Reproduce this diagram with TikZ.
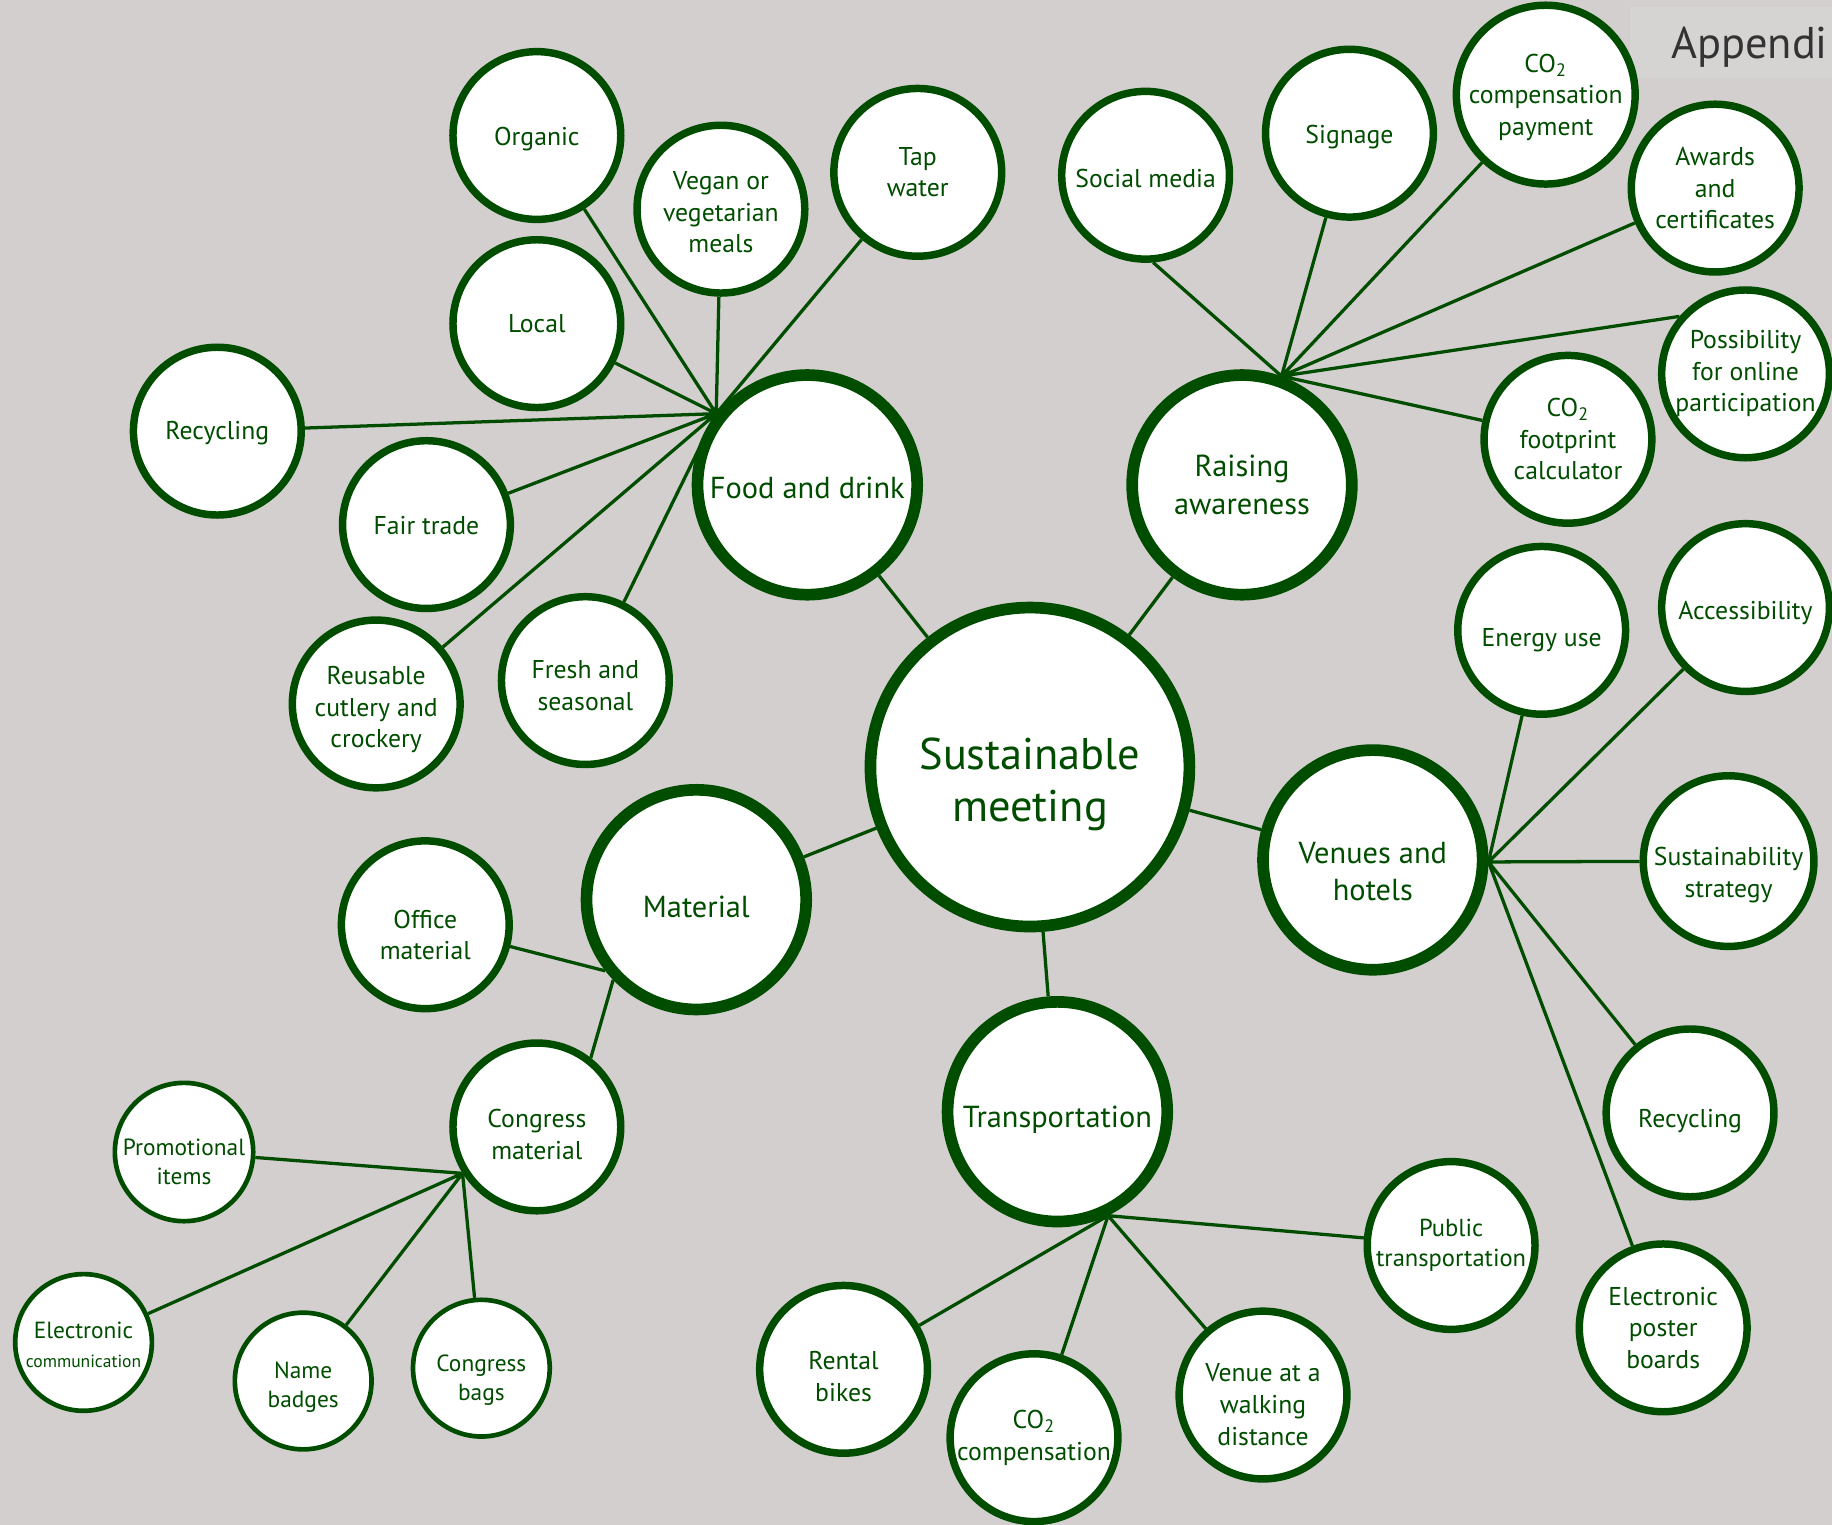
\documentclass[tikz,border=0pt]{standalone}
\usepackage{fontspec}
\setmainfont{PT Sans}
\definecolor{leafgreen}{HTML}{004D00}
\definecolor{paper}{HTML}{D3CFCF}
\definecolor{paperlight}{HTML}{D6D3D3}
\definecolor{inkgrey}{HTML}{333333}
\pgfdeclarelayer{back}
\pgfsetlayers{back,main}
\begin{document}
\begin{tikzpicture}[x=0.5pt,y=-0.5pt]
	\tikzstyle{bubble}=[circle,draw=leafgreen,fill=white,inner sep=0,align=center,text=leafgreen]
	\tikzstyle{hub node}=[bubble,line width=5pt,minimum size=136.5pt,font=\fontsize{19}{22.5}\selectfont]
	\tikzstyle{topic node}=[bubble,line width=5pt,minimum size=94pt,font=\fontsize{13}{16}\selectfont]
	\tikzstyle{leaf node}=[bubble,line width=3.2pt,minimum size=71.8pt,font=\fontsize{11}{13.5}\selectfont]
	\tikzstyle{small node}=[bubble,line width=2pt,minimum size=58.5pt,font=\fontsize{10}{12.5}\selectfont]
	\tikzstyle{link}=[leafgreen,line width=1.4pt]
	\useasboundingbox(0,0)rectangle(1568,1305);
	\node(0)[hub node,text height=51pt] at (881.5,656.5){Sustainable\\meeting};
	\node(0-1)[topic node,text height=11.4pt] at (691,415){Food and drink};
	\node(0-2)[topic node] at (1063,415){Raising\\awareness};
	\node(0-3)[topic node,text height=35pt] at (1175,736){Venues and\\hotels};
	\node(0-4)[topic node,text height=16.4pt] at (905,951.5){Transportation};
	\node(0-5)[topic node,text height=15.4pt] at (596,770){Material};
	% food and drink
	\node(0-1-1)[leaf node,text height=10.9pt] at (459.5,116){Organic};
	\node(0-1-2)[leaf node,text height=37.4pt] at (617,179){Vegan or\\vegetarian\\meals};
	\node(0-1-3)[leaf node] at (785.5,147.5){Tap\\water};
	\node(0-1-4)[leaf node] at (459.5,277){Local};
	\node(0-1-5)[leaf node,text height=9.9pt] at (186,369){Recycling};
	\node(0-1-6)[leaf node,text height=8.9pt] at (365,449){Fair trade};
	\node(0-1-7)[leaf node,text height=39.9pt] at (322,602.5){Reusable\\cutlery and\\crockery};
	\node(0-1-8)[leaf node,text height=25.4pt] at (501,582.5){Fresh and\\seasonal};
	% raising awareness
	\node(0-2-1)[leaf node,text height=10.9pt] at (980.5,150){Social media};
	\node(0-2-2)[leaf node,text height=10.9pt] at (1155,114){Signage};
	\node(0-2-3)[leaf node,text height=36.9pt] at (1323,81){CO\textsubscript{2}\\compensation\\payment};
	\node(0-2-4)[leaf node] at (1468,161){Awards\\and\\certificates};
	\node(0-2-5)[leaf node] at (1494,320){Possibility\\for online\\participation};
	\node(0-2-6)[leaf node] at (1342,376){CO\textsubscript{2}\\footprint\\calculator};
	% venues and hotels
	\node(0-3-1)[leaf node,text height=15.9pt] at (1319.5,539.5){Energy use};
	\node(0-3-2)[leaf node,text height=12.9pt] at (1494,520){Accessibility};
	\node(0-3-3)[leaf node,text height=33.4pt] at (1479.5,737){Sustainability\\strategy};
	\node(0-3-4)[leaf node,text height=14.9pt] at (1446.5,952.5){Recycling};
	\node(0-3-5)[leaf node] at (1423.5,1136.5){Electronic\\poster\\boards};
	% transportation
	\node(0-4-1)[leaf node,text height=27.4pt] at (722,1172){Rental\\bikes};
	\node(0-4-2)[leaf node] at (885,1230.5){CO\textsubscript{2}\\compensation};
	\node(0-4-3)[leaf node,text height=42.9pt] at (1081,1194){Venue at a\\walking\\distance};
	\node(0-4-4)[leaf node,font=\fontsize{10.5}{13}\selectfont] at (1242,1066){Public\\transportation};
	% material
	\node(0-5-1)[leaf node,text height=29.9pt] at (364,791.5){Office\\material};
	\node(0-5-2)[leaf node,text height=27.9pt] at (459.5,964.5){Congress\\material};
	\node(0-5-2-1)[small node,text height=27.7pt] at (157.5,986){Promotional\\items};
	\node(0-5-2-2)[small node,text height=21.7pt] at (71.5,1149){Electronic\\{\fontsize{7.5}{9}\selectfont communication}};
	\node(0-5-2-3)[small node,text height=24.7pt] at (259.5,1182){Name\\badges};
	\node(0-5-2-4)[small node,text height=29.7pt] at (412,1171){Congress\\bags};
	\node(title)[anchor=west,text=inkgrey,font=\fontsize{19}{23}\selectfont,inner sep=0] at (1430,40){Appendi};
	\begin{pgfonlayer}{back}
		\fill[paper](0,0)rectangle(1568,1305);
		\fill[paperlight](1395,6)rectangle(1568,67);
		\draw[link](0)--(0-1)(0)--(0-2)(0)--(0-3)(0)--(0-4)(0)--(0-5);
		\draw[link](0-1-1)--(0-1.142)(0-1-2)--(0-1.142)(0-1-3)--(0-1.142)(0-1-4)--(0-1.142)
			(0-1-5)--(0-1.142)(0-1-6)--(0-1.142)(0-1-7)--(0-1.142)(0-1-8)--(0-1.142);
		\draw[link](0-2-1.-85)--(0-2.70)(0-2-2)--(0-2.70)(0-2-3)--(0-2.70)(0-2-4)--(0-2.70)
			(0-2-5.139)--(0-2.70)(0-2-6)--(0-2.70);
		\draw[link](0-3-1)--(0-3.-1)(0-3-2)--(0-3.-1)(0-3-3)--(0-3.-1)(0-3-4)--(0-3.-1)(0-3-5)--(0-3.-1);
		\draw[link](0-4-1)--(0-4.-64)(0-4-2)--(0-4.-64)(0-4-3)--(0-4.-64)(0-4-4)--(0-4.-64);
		\draw[link](0-5-1)--(0-5.-142)(0-5-2.52)--(0-5.-136);
		\draw[link](0-5-2-1)--(0-5-2.-148)(0-5-2-2)--(0-5-2.-148)(0-5-2-3)--(0-5-2.-148)(0-5-2-4)--(0-5-2.-148);
	\end{pgfonlayer}
\end{tikzpicture}
\end{document}
